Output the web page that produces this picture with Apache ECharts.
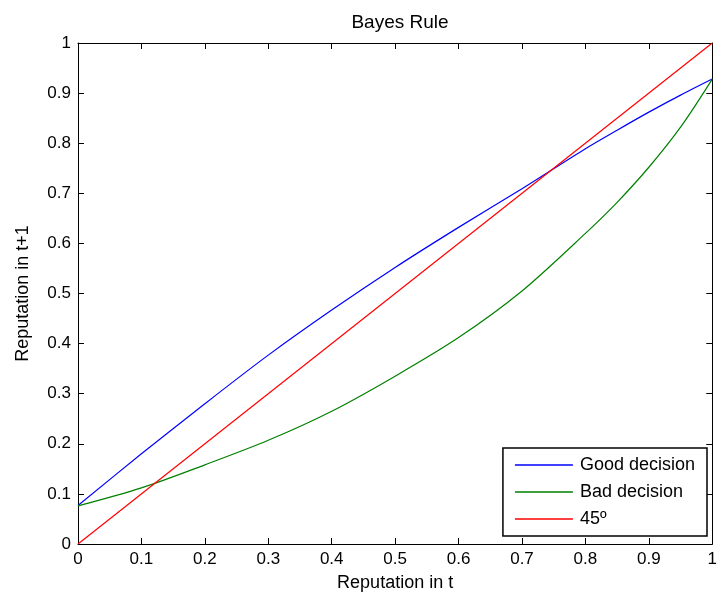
<!DOCTYPE html>
<html>
<head>
<meta charset="utf-8">
<script src="https://cdn.jsdelivr.net/npm/echarts@6/dist/echarts.min.js"></script>
<style>html,body{margin:0;padding:0;background:#fff}#c{width:720px;height:598px}</style>
</head>
<body>
<div id="c"></div>
<script>
var titleText = "Bayes Rule";
var xName = "Reputation in t";
var yName = "Reputation in t+1";
var seriesNames = ["Good decision", "Bad decision", "45º"];
var tValues = [0, 0.1, 0.2, 0.3, 0.4, 0.5, 0.6, 0.7, 0.8, 0.85, 0.9, 0.95, 1];
var goodDecision = [0.077, 0.180, 0.280, 0.377, 0.467, 0.552, 0.632, 0.709, 0.789, 0.826, 0.862, 0.896, 0.928];
var badDecision = [0.076, 0.112, 0.158, 0.207, 0.265, 0.335, 0.412, 0.505, 0.620, 0.682, 0.752, 0.832, 0.928];
var diagX = [0, 1];
var diagY = [0, 1];

function pairs(xs, ys) { return xs.map(function (x, i) { return [x, ys[i]]; }); }

var font = 'Arial, "Liberation Sans", Helvetica, sans-serif';
var chart = echarts.init(document.getElementById('c'), null, { renderer: 'canvas' });
var axisCommon = {
  min: 0, max: 1, interval: 0.1,
  axisLine: { show: true, onZero: false, lineStyle: { color: '#000', width: 1 } },
  axisTick: { show: true, inside: true, length: 6, lineStyle: { color: '#000' } },
  splitLine: { show: false }
};
function fmt(v) { return v === 0 ? '0' : (v === 1 ? '1' : String(Math.round(v * 10) / 10)); }

chart.setOption({
  animation: false,
  backgroundColor: '#fff',
  title: {
    text: titleText, left: 395, top: 8, textAlign: 'center',
    textStyle: { fontFamily: font, fontSize: 19, fontWeight: 'normal', color: '#000' }
  },
  grid: { left: 78, right: 5, top: 43, bottom: 54 },
  legend: {
    orient: 'vertical', right: 13, top: 448,
    data: seriesNames,
    icon: 'rect',
    itemWidth: 58, itemHeight: 1.5, itemGap: 9,
    padding: [8, 12, 8, 12],
    backgroundColor: '#fff', borderColor: '#000', borderWidth: 1.5, borderRadius: 0,
    textStyle: { fontFamily: font, fontSize: 18, color: '#000', padding: [0, 0, 0, 2], lineHeight: 18 }
  },
  xAxis: [
    Object.assign({}, axisCommon, {
      type: 'value', position: 'bottom', name: xName, nameLocation: 'middle', nameGap: 30,
      nameTextStyle: { fontFamily: font, fontSize: 18, color: '#000' },
      axisLabel: { show: true, margin: 7, color: '#000', fontFamily: font, fontSize: 17, formatter: fmt }
    }),
    Object.assign({}, axisCommon, {
      type: 'value', position: 'top', axisLabel: { show: false }
    })
  ],
  yAxis: [
    Object.assign({}, axisCommon, {
      type: 'value', position: 'left', name: yName, nameLocation: 'middle', nameGap: 46,
      nameTextStyle: { fontFamily: font, fontSize: 18, color: '#000' },
      axisLabel: { show: true, margin: 7, color: '#000', fontFamily: font, fontSize: 17, formatter: fmt }
    }),
    Object.assign({}, axisCommon, {
      type: 'value', position: 'right', axisLabel: { show: false }
    })
  ],
  series: [
    { name: seriesNames[0], type: 'line', data: pairs(tValues, goodDecision), smooth: 0.3,
      symbol: 'none', lineStyle: { color: '#0000ff', width: 1.2 }, itemStyle: { color: '#0000ff' } },
    { name: seriesNames[1], type: 'line', data: pairs(tValues, badDecision), smooth: 0.3,
      symbol: 'none', lineStyle: { color: '#008000', width: 1.2 }, itemStyle: { color: '#008000' } },
    { name: seriesNames[2], type: 'line', data: pairs(diagX, diagY),
      symbol: 'none', lineStyle: { color: '#ff0000', width: 1.2 }, itemStyle: { color: '#ff0000' } }
  ]
});
</script>
</body>
</html>
